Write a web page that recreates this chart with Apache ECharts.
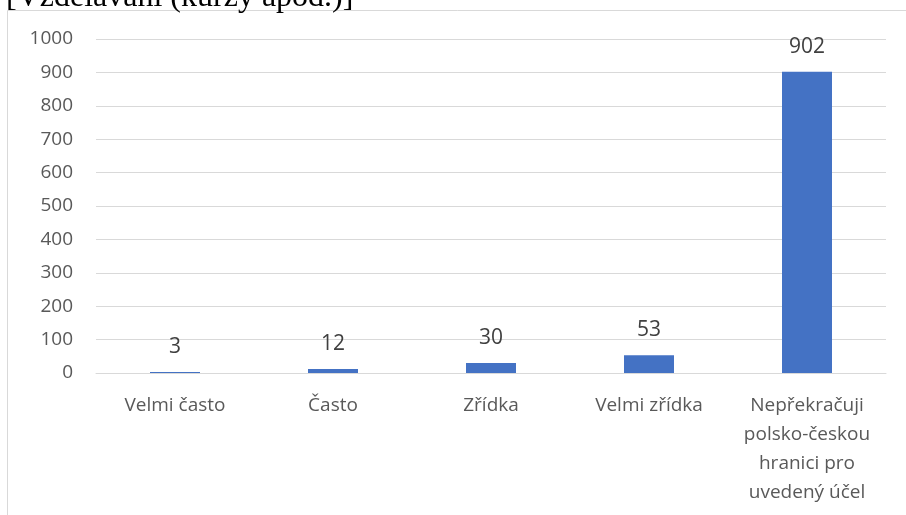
<!DOCTYPE html>
<html><head><meta charset="utf-8">
<script src="https://cdn.jsdelivr.net/npm/echarts@6/dist/echarts.min.js"></script>
<style>html,body{margin:0;padding:0;background:#fff;overflow:hidden}#c{width:906px;height:515px}</style>
</head><body><div id="c"></div>
<script>
const categories = ['Velmi často', 'Často', 'Zřídka', 'Velmi zřídka', 'Nepřekračuji\npolsko-českou\nhranici pro\nuvedený účel'];
const values = [3, 12, 30, 53, 902];
const titleText = '[Vzdělávání (kurzy apod.)]';

const chart = echarts.init(document.getElementById('c'));
chart.setOption({
  animation: false,
  graphic: [
    { type: 'rect', shape: { x: 7.5, y: 10.5, width: 1000, height: 1000 }, style: { fill: 'none', stroke: '#d9d9d9', lineWidth: 1 }, z: 0 },
    { type: 'text', x: 6, y: 14, style: { text: titleText, font: '32px "Liberation Serif", serif', fill: '#000', textVerticalAlign: 'bottom' }, z: 1 }
  ],
  grid: { left: 96, right: 20, top: 39, bottom: 142, containLabel: false },
  xAxis: {
    type: 'category', data: categories,
    axisLine: { lineStyle: { color: '#d9d9d9', width: 1 } },
    axisTick: { show: false },
    axisLabel: { color: '#595959', fontSize: 19, fontFamily: 'Open Sans', lineHeight: 29, margin: 18, interval: 0 }
  },
  yAxis: {
    type: 'value', min: 0, max: 1000, interval: 100,
    axisLine: { show: false }, axisTick: { show: false },
    splitLine: { lineStyle: { color: '#d9d9d9', width: 1 } },
    axisLabel: { color: '#595959', fontSize: 19, fontFamily: 'Open Sans', margin: 23, formatter: v => String(v) }
  },
  series: [{
    type: 'bar', data: values, barWidth: 50,
    itemStyle: { color: '#4472c4' },
    label: { show: true, position: 'top', distance: 14, color: '#404040', fontSize: 21, lineHeight: 22, fontFamily: 'Open Sans' }
  }]
});
</script></body></html>
